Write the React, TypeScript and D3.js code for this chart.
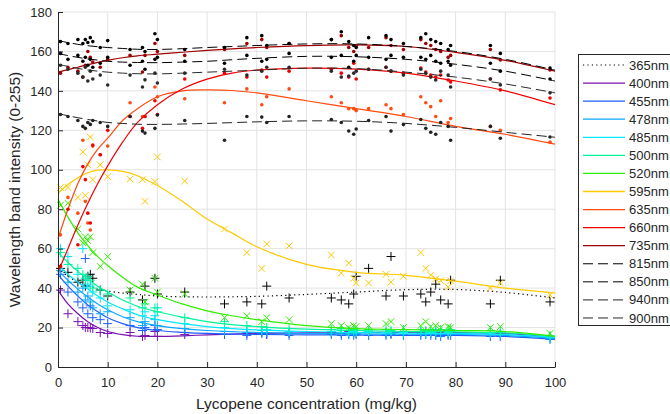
import React, { useRef, useEffect } from "react";
import * as d3 from "d3";

// sample concentrations (mg/kg), shared by all wavelengths
const conc = [0.5, 2, 4, 5, 5.5, 6, 6.5, 7, 8.5, 10, 14.5, 17, 17.5, 19.5, 20, 25.5, 33.5, 38, 41, 42, 46.5, 55, 57, 58.5, 59.5, 60, 62.5, 66, 67, 69.5, 73, 74, 75, 76, 77, 78.5, 79, 87, 89, 99];

// measured band intensities, one value per sample
const v365 = [50, 48, 43, 44, 41, 46, 47, 45, 39, 36, 38, 34, 41, 45, 37, 38, 32, 33, 32, 41, 35, 35, 34, 32, 37, 46, 50, 36, 56, 36, 37, 33, 38, 42, 34, 32, 44, 32, 44, 33];
const v400 = [39, 27, 23, 21, 20, 20, 19.8, 19.5, 17.5, 17, 17.5, 15.5, 16, 18, 15.5, 16.5, 16.5, 17, 17.5, 16.5, 17, 17.5, 17, 18, 17.5, 17, 18, 17.5, 17, 18, 17.5, 18, 17, 17.5, 18, 17, 17.5, 17.5, 17, 15.5];
const v455 = [47, 38, 33, 30, 55, 27, 31, 25, 24, 22, 21, 18.5, 20, 21, 19, 17.5, 16.5, 16, 17, 16.5, 16, 16.5, 16, 16.5, 16, 16.5, 16, 16, 16.5, 16, 16, 16.5, 16, 16, 15.5, 16, 16, 15.5, 15.5, 14];
const v478 = [49, 43, 38, 40, 34, 36, 33, 30, 27, 28, 25, 21, 23, 24, 21, 19.5, 18, 17.5, 17.5, 17.5, 17, 17, 17.5, 16.5, 17, 17, 17.5, 16.5, 17, 16.5, 17, 16.5, 17, 16.5, 17, 16.5, 17, 16.5, 16, 14.5];
const v485 = [60, 56, 47, 60, 45, 42, 41, 38, 35, 31, 29, 26, 28, 26, 30, 22, 20, 19, 18.5, 19, 18, 18, 18.5, 17.5, 18, 17.5, 18, 17.5, 18, 17.5, 18, 17, 17.5, 18, 17, 17.5, 18, 17, 16.5, 15];
const v500 = [58, 52, 50, 47, 44, 46, 44, 40, 39, 37, 35, 30, 32, 30, 28, 25, 23, 21, 20.5, 20, 19.5, 19, 19.5, 18.5, 19, 18.5, 19, 19, 18.5, 19, 19, 18.5, 19, 18.5, 19, 18.5, 19, 18.5, 18, 16];
const v520 = [82, 83, 70, 63, 66, 64, 66, 58, 51, 56, 39, 42, 33, 45, 38, 37, 25, 26, 23, 25, 24, 22, 21, 20, 21, 20.5, 21, 22, 23, 20, 21, 23, 20.5, 21, 20, 20.5, 20, 20, 20.5, 17];
const v595 = [91, 91, 86, 109, 87, 102.5, 116.6, 95, 102.5, 96.5, 95.3, 95, 84, 94, 106.5, 94.3, 70, 58, 50, 62.4, 61.4, 56.8, 47.6, 52.7, 45, 42.6, 42.6, 47, 43, 46, 58, 50, 46.6, 44.7, 43.7, 40.5, 43.7, 40, 42.6, 36.5];
const v635 = [67, 86, 78, 115, 84, 73, 69.5, 112, 107.6, 112, 134, 127, 127, 142, 137, 136, 134, 141, 133, 137, 141, 137, 134, 131, 131, 130, 131, 133, 131, 128, 137, 134, 132, 127, 135, 124, 126, 122, 120, 114];
const v660 = [51, 80, 62, 101.6, 95, 78, 73, 112.6, 107.6, 120, 127, 121, 127, 135, 128, 146, 149, 147, 150.6, 147, 150, 151, 149, 147, 154, 146, 151, 152, 150, 149, 151.6, 149.6, 148, 147, 148, 145.5, 144.5, 146, 140.5, 136.4];
const v735 = [149, 152, 150, 147, 153, 160, 157, 154.6, 152, 156, 158, 149.6, 158, 164, 160, 158, 161, 164, 166, 162, 164, 166, 168, 162, 160, 163, 162, 167, 163, 161, 166, 164, 163, 161, 160, 157, 158, 161, 155.7, 150.6];
const v815 = [165, 164, 166, 164, 166, 164.5, 167, 165, 162, 165.5, 161, 162, 160, 169, 166, 161, 162, 167, 168, 163, 164, 166, 170, 165, 163, 162, 167, 168, 166, 164, 167, 169, 166, 165, 164, 161, 163, 163, 159, 151.6];
const v850 = [159, 156, 158, 155, 157, 153, 156, 152, 154, 157, 153, 155, 151, 156, 157, 155, 154, 158, 155, 156, 159, 157, 158, 152, 155, 158, 157, 156, 158, 157, 157, 156, 158, 155, 154, 155, 153, 154, 150, 146];
const v940 = [128, 127, 125, 122, 121, 124, 123, 125, 124, 122, 127, 119.6, 118.6, 121, 127.8, 125, 115, 127, 126.7, 124, 127, 125.5, 124, 119.7, 118, 120.7, 125, 127, 119.6, 122.9, 125.5, 121, 119, 118, 124, 122, 115, 122, 116, 116.6];
const v900 = [153, 151, 149, 147, 152, 145, 150, 146, 148, 143, 148, 142, 145.6, 149, 144, 149, 151, 148, 150, 152, 152, 150, 147, 147.5, 149, 150, 151, 152, 150, 148, 151, 149, 147, 145.5, 150, 148, 142, 146, 143, 139];

// fitted curves, sampled at fitX
const fitX = [0, 2, 4, 6, 8, 10, 13, 16, 20, 25, 30, 35, 40, 50, 60, 70, 80, 90, 100];
const f365 = [50, 46, 43, 41.2, 39.5, 38.5, 37.5, 36.8, 36, 35.6, 35.5, 35.6, 35.8, 36.8, 38, 39.2, 39.3, 37.8, 35];
const f400 = [39, 32, 27, 23, 20, 18, 16.4, 15.6, 15.5, 15.8, 16.3, 16.7, 17, 17.3, 17.5, 17.5, 17.5, 17, 15];
const f455 = [47, 41, 36, 31.5, 28, 25, 22, 20, 18.5, 17.6, 17, 16.7, 16.5, 16.3, 16.2, 16, 16, 15.5, 14];
const f478 = [49, 44, 39.5, 35.5, 32, 29, 25.5, 23, 21, 19.5, 18.5, 17.9, 17.5, 17, 16.8, 16.6, 16.5, 16, 14.5];
const f485 = [52, 47, 43, 39.5, 36, 33, 29.5, 26.5, 24, 22, 20.5, 19.5, 18.8, 18, 17.5, 17.2, 17, 16.5, 15];
const f500 = [58, 53, 48.5, 44.5, 41, 38, 34, 30.8, 28, 25.3, 23, 21.5, 20.5, 19.2, 18.5, 18, 17.8, 17.3, 15.5];
const f520 = [85, 76, 68, 61.5, 56, 51.5, 45.5, 40.5, 36.5, 32, 28.5, 26, 24, 21, 19.5, 19, 18.5, 18, 15.5];
const f595 = [88, 92.5, 96, 98.5, 99.8, 100, 99.2, 97, 92, 84, 75, 68, 61, 52, 48, 46.5, 43.5, 40, 37.5];
const f635 = [65, 80, 93, 103, 110.5, 116, 125, 131, 137, 140, 140.5, 140.2, 139, 135, 131, 127, 122, 118, 113];
const f660 = [48, 60, 72, 83, 93, 102, 114, 124, 133, 141, 146, 149, 150.5, 151.5, 151, 149, 145, 140, 133];
const f735 = [149.5, 150.8, 152, 153.3, 154.5, 155.5, 156.8, 157.8, 158.6, 159.6, 160.5, 161.3, 162, 163, 163.3, 162.5, 159.5, 155.5, 150];
const f815 = [165.5, 164.5, 163.6, 162.9, 162.4, 162, 161.5, 161.1, 161, 161.4, 162, 162.5, 163, 163.8, 163.8, 162.5, 160, 156, 150.5];
const f850 = [159, 157.9, 157, 156.2, 155.6, 155, 154.6, 154.4, 154.3, 154.6, 155, 155.8, 156.5, 157.5, 157.3, 156, 153.5, 150, 145];
const f940 = [128.5, 127.4, 126.4, 125.5, 124.7, 124, 123.5, 123.1, 123, 123.2, 123.5, 123.9, 124.3, 124.8, 124.6, 123.5, 121.5, 119, 116.5];
const f900 = [153.5, 152.4, 151.4, 150.6, 150, 149.5, 149, 148.7, 148.6, 149, 149.5, 150, 150.5, 151.5, 151.3, 149.5, 147, 143.5, 139];

const xTicks = [0, 10, 20, 30, 40, 50, 60, 70, 80, 90, 100];
const yTicks = [0, 20, 40, 60, 80, 100, 120, 140, 160, 180];

const series = [
  { name: "365nm", vals: v365, fit: f365, color: "#000000", marker: "+", dash: "1.2,3.2" },
  { name: "400nm", vals: v400, fit: f400, color: "#7a0fb0", marker: "+", dash: null },
  { name: "455nm", vals: v455, fit: f455, color: "#1f5fff", marker: "+", dash: null },
  { name: "478nm", vals: v478, fit: f478, color: "#0aa8ff", marker: "+", dash: null },
  { name: "485nm", vals: v485, fit: f485, color: "#00e8ff", marker: "+", dash: null },
  { name: "500nm", vals: v500, fit: f500, color: "#00f59a", marker: "+", dash: null },
  { name: "520nm", vals: v520, fit: f520, color: "#30ee00", marker: "x", dash: null },
  { name: "595nm", vals: v595, fit: f595, color: "#ffc800", marker: "x", dash: null },
  { name: "635nm", vals: v635, fit: f635, color: "#ff4a10", marker: ".", dash: null },
  { name: "660nm", vals: v660, fit: f660, color: "#f00000", marker: ".", dash: null },
  { name: "735nm", vals: v735, fit: f735, color: "#a00000", marker: ".", dash: null },
  { name: "815nm", vals: v815, fit: f815, color: "#000000", marker: ".", dash: "10,5" },
  { name: "850nm", vals: v850, fit: f850, color: "#000000", marker: ".", dash: "10,5" },
  { name: "940nm", vals: v940, fit: f940, color: "#222222", marker: ".", dash: "10,5" },
  { name: "900nm", vals: v900, fit: f900, color: "#2a2a2a", marker: ".", dash: "10,5" },
];

const W = 670;
const H = 414;
const FONT = "'Liberation Sans', Arial, Helvetica, sans-serif";

const App = () => {
  const svgRef = useRef(null);

  useEffect(() => {
    const svg = d3.select(svgRef.current);
    svg.selectAll("*").remove();

    const x = d3.scaleLinear().domain([0, 100]).range([58, 555]);
    const y = d3.scaleLinear().domain([0, 180]).range([367, 12]);

    // grid
    const grid = svg.append("g").attr("stroke", "#e3e3e3").attr("stroke-width", 1);
    xTicks.slice(1).forEach((t) => {
      grid.append("line").attr("x1", x(t)).attr("x2", x(t)).attr("y1", y(0)).attr("y2", y(180));
    });
    yTicks.slice(1).forEach((t) => {
      grid.append("line").attr("x1", x(0)).attr("x2", x(100)).attr("y1", y(t)).attr("y2", y(t));
    });

    // markers + fits
    const line = d3
      .line()
      .x((d) => x(d[0]))
      .y((d) => y(d[1]))
      .curve(d3.curveCatmullRom.alpha(0.5));

    const plot = svg.append("g");
    series.forEach((s) => {
      const pts = conc.map((c, i) => [c, s.vals[i]]);
      const g = plot.append("g");
      if (s.marker === ".") {
        g.selectAll("circle")
          .data(pts)
          .join("circle")
          .attr("cx", (d) => x(d[0]))
          .attr("cy", (d) => y(d[1]))
          .attr("r", 1.8)
          .attr("fill", s.color);
      } else {
        const r = s.marker === "+" ? 4.5 : 3.3;
        const p =
          s.marker === "+"
            ? `M${-r},0H${r}M0,${-r}V${r}`
            : `M${-r},${-r}L${r},${r}M${-r},${r}L${r},${-r}`;
        g.selectAll("path")
          .data(pts)
          .join("path")
          .attr("transform", (d) => `translate(${x(d[0])},${y(d[1])})`)
          .attr("d", p)
          .attr("stroke", s.color)
          .attr("stroke-width", 1)
          .attr("fill", "none");
      }
      plot
        .append("path")
        .attr("d", line(fitX.map((fx, i) => [fx, s.fit[i]])))
        .attr("fill", "none")
        .attr("stroke", s.color)
        .attr("stroke-width", s.dash === "10,5" ? 1 : 1.2)
        .attr("stroke-dasharray", s.dash);
    });

    // axes
    const xAxis = d3.axisBottom(x).tickValues(xTicks).tickSizeInner(-5).tickSizeOuter(0).tickPadding(11);
    const yAxis = d3.axisLeft(y).tickValues(yTicks).tickSizeInner(-5).tickSizeOuter(0).tickPadding(6);
    const gx = svg.append("g").attr("transform", `translate(0,${y(0)})`).call(xAxis);
    const gy = svg.append("g").attr("transform", `translate(${x(0)},0)`).call(yAxis);
    [gx, gy].forEach((g) => {
      g.attr("color", "#262626");
      g.selectAll("text").attr("font-size", 13).attr("font-family", FONT).attr("fill", "#262626");
    });

    svg
      .append("text")
      .attr("x", (x(0) + x(100)) / 2)
      .attr("y", 409)
      .attr("text-anchor", "middle")
      .attr("font-size", 15.5)
      .attr("font-family", FONT)
      .attr("fill", "#262626")
      .text("Lycopene concentration (mg/kg)");

    svg
      .append("text")
      .attr("transform", `translate(20,${(y(0) + y(180)) / 2}) rotate(-90)`)
      .attr("text-anchor", "middle")
      .attr("font-size", 15.5)
      .attr("font-family", FONT)
      .attr("fill", "#262626")
      .text("Wavelength band intensity (0-255)");

    // legend
    const lg = svg.append("g");
    lg.append("rect")
      .attr("x", 578.5)
      .attr("y", 54.5)
      .attr("width", 95)
      .attr("height", 271)
      .attr("fill", "#fff")
      .attr("stroke", "#262626")
      .attr("stroke-width", 1);
    series.forEach((s, i) => {
      const ly = 65 + i * 18.07;
      lg.append("line")
        .attr("x1", 583)
        .attr("x2", 625)
        .attr("y1", ly)
        .attr("y2", ly)
        .attr("stroke", s.color)
        .attr("stroke-width", s.dash ? 1 : 1.3)
        .attr("stroke-dasharray", s.dash);
      lg.append("text")
        .attr("x", 629)
        .attr("y", ly)
        .attr("dy", "0.35em")
        .attr("font-size", 13)
        .attr("font-family", FONT)
        .attr("fill", "#262626")
        .text(s.name);
    });
  }, []);

  return (
    <div>
      <svg
        ref={svgRef}
        width={W}
        height={H}
        style={{ position: "absolute", left: 0, top: 0, background: "#fff" }}
      ></svg>
    </div>
  );
};

export default App;
